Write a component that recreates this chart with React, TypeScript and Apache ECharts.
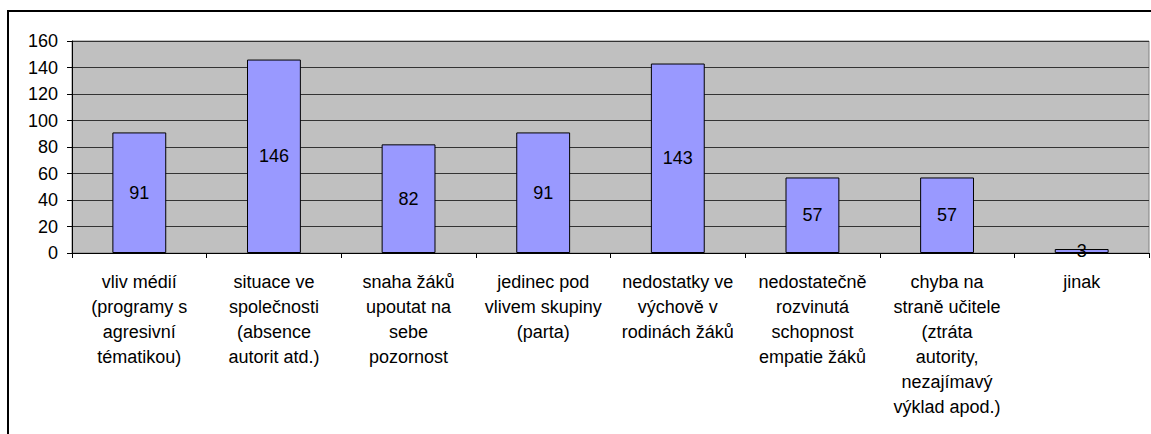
import React, { useEffect, useRef } from "react";
import * as echarts from "echarts";

const categories = [
  "vliv médií\n(programy s\nagresivní\ntématikou)",
  "situace ve\nspolečnosti\n(absence\nautorit atd.)",
  "snaha žáků\nupoutat na\nsebe\npozornost",
  "jedinec pod\nvlivem skupiny\n(parta)",
  "nedostatky ve\nvýchově v\nrodinách žáků",
  "nedostatečně\nrozvinutá\nschopnost\nempatie žáků",
  "chyba na\nstraně učitele\n(ztráta\nautority,\nnezajímavý\nvýklad apod.)",
  "jinak",
];
const values = [91, 146, 82, 91, 143, 57, 57, 3];
const yMin = 0;
const yMax = 160;
const yInterval = 20;

const FONT = "'Liberation Sans', Arial, sans-serif";

export default function App() {
  const ref = useRef<HTMLDivElement>(null);
  useEffect(() => {
    if (!ref.current) return;
    const chart = echarts.init(ref.current, undefined, { renderer: "svg" });
    chart.setOption({
      animation: false,
      backgroundColor: "#ffffff",
      textStyle: { fontFamily: FONT },
      grid: {
        left: 72,
        top: 41,
        right: 2,
        bottom: 181,
        show: true,
        backgroundColor: "#C0C0C0",
        borderColor: "#808080",
        borderWidth: 1,
      },
      graphic: [
        {
          type: "rect",
          shape: { x: 8, y: 11, width: 1300, height: 600 },
          style: { fill: "none", stroke: "#000", lineWidth: 2 },
          silent: true,
          z: 100,
        },
      ],
      xAxis: {
        type: "category",
        data: categories,
        axisLine: { show: true, lineStyle: { color: "#000", width: 1 } },
        axisTick: { show: true, length: 5, lineStyle: { color: "#000" } },
        axisLabel: {
          interval: 0,
          color: "#000",
          fontSize: 18,
          lineHeight: 25,
          margin: 16,
          fontFamily: FONT,
          align: "center",
        },
        splitLine: { show: false },
      },
      yAxis: {
        type: "value",
        min: yMin,
        max: yMax,
        interval: yInterval,
        axisLine: { show: true, lineStyle: { color: "#000", width: 1 } },
        axisTick: { show: true, length: 5, lineStyle: { color: "#000" } },
        axisLabel: { color: "#000", fontSize: 18, margin: 14, fontFamily: FONT },
        splitLine: { show: true, lineStyle: { color: "#333", width: 1 } },
      },
      series: [
        {
          type: "bar",
          data: values,
          barWidth: "40%",
          itemStyle: { color: "#9999FF", borderColor: "#000", borderWidth: 1 },
          label: {
            show: true,
            position: "inside",
            color: "#000",
            fontSize: 18,
            fontFamily: FONT,
          },
        },
      ],
    });
    return () => chart.dispose();
  }, []);
  return (
    <div
      ref={ref}
      style={{ position: "fixed", left: 0, top: 0, width: 1151, height: 434 }}
    />
  );
}
